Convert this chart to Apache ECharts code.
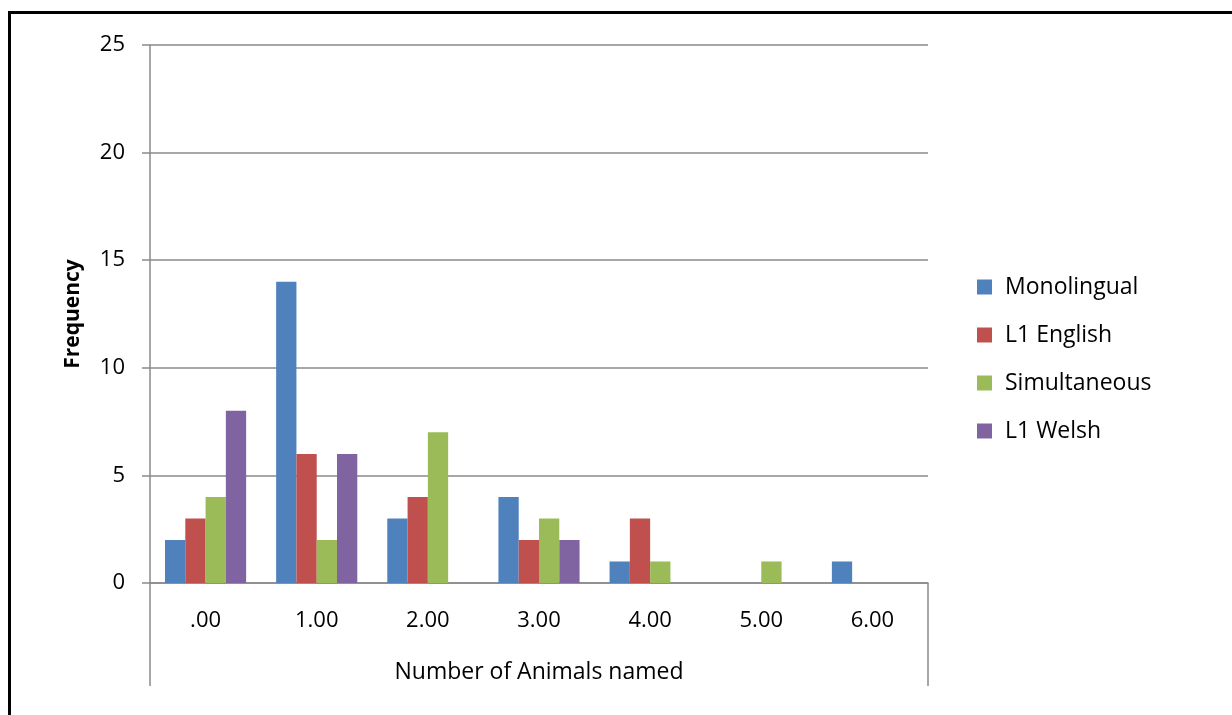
<!DOCTYPE html>
<html>
<head>
<meta charset="utf-8">
<script src="https://cdn.jsdelivr.net/npm/echarts@6/dist/echarts.min.js"></script>
<style>
  html, body { margin: 0; padding: 0; background: #fff; overflow: hidden; }
  #chart { position: absolute; left: 0; top: 0; width: 1232px; height: 715px; }
  #frame { position: absolute; left: 8px; top: 11px; width: 1400px; height: 900px; border: 3px solid #000; }
</style>
</head>
<body>
<div id="frame"></div>
<div id="chart"></div>
<script>
const categories = [".00", "1.00", "2.00", "3.00", "4.00", "5.00", "6.00"];
const monolingual = [2, 14, 3, 4, 1, 0, 1];
const l1English = [3, 6, 4, 2, 3, 0, 0];
const simultaneous = [4, 2, 7, 3, 1, 1, 0];
const l1Welsh = [8, 6, 0, 2, 0, 0, 0];
const yTicks = [0, 5, 10, 15, 20, 25];

const font = "'Open Sans', sans-serif";
const gray = "#8a8a8a";
const gridBox = { left: 150, right: 304, top: 45, bottom: 132 };

const chart = echarts.init(document.getElementById("chart"));

const bar = (name, data, color) => ({
  name: name,
  type: "bar",
  data: data,
  barGap: "0%",
  barCategoryGap: "27%",
  itemStyle: { color: color },
});

// the two end lines that drop below the plot, excel style
const dropLine = (x) => ({
  type: "line",
  shape: { x1: x, y1: 715 - gridBox.bottom, x2: x, y2: 686 },
  style: { stroke: gray, lineWidth: 1.5 },
});

chart.setOption({
  animation: false,
  textStyle: { fontFamily: font },
  grid: gridBox,
  graphic: [dropLine(gridBox.left), dropLine(1232 - gridBox.right)],
  legend: {
    orient: "vertical",
    left: 972,
    top: 270,
    icon: "rect",
    itemWidth: 15,
    itemHeight: 15,
    itemGap: 24,
    textStyle: {
      fontFamily: font,
      fontSize: 23,
      color: "#000",
      lineHeight: 24,
      padding: [0, 0, 0, 8],
    },
    data: ["Monolingual", "L1 English", "Simultaneous", "L1 Welsh"],
  },
  xAxis: {
    type: "category",
    data: categories,
    name: "Number of Animals named",
    nameLocation: "middle",
    nameGap: 78,
    nameTextStyle: { fontFamily: font, fontSize: 23, color: "#000" },
    axisLine: { lineStyle: { color: gray, width: 1.5 } },
    axisTick: { show: false },
    axisLabel: { margin: 27, fontFamily: font, fontSize: 22, color: "#000" },
  },
  yAxis: {
    type: "value",
    min: yTicks[0],
    max: yTicks[yTicks.length - 1],
    interval: yTicks[1] - yTicks[0],
    name: "Frequency",
    nameLocation: "middle",
    nameGap: 66,
    nameTextStyle: { fontFamily: font, fontSize: 21, fontWeight: "bold", color: "#000" },
    axisLine: { show: true, lineStyle: { color: gray, width: 1.5 } },
    axisTick: { show: true, length: 8, lineStyle: { color: gray, width: 1.5 } },
    axisLabel: { margin: 25, fontFamily: font, fontSize: 22, color: "#000" },
    splitLine: { lineStyle: { color: gray, width: 1.5 } },
  },
  series: [
    bar("Monolingual", monolingual, "#4F81BD"),
    bar("L1 English", l1English, "#C0504D"),
    bar("Simultaneous", simultaneous, "#9BBB59"),
    bar("L1 Welsh", l1Welsh, "#8064A2"),
  ],
});
</script>
</body>
</html>
